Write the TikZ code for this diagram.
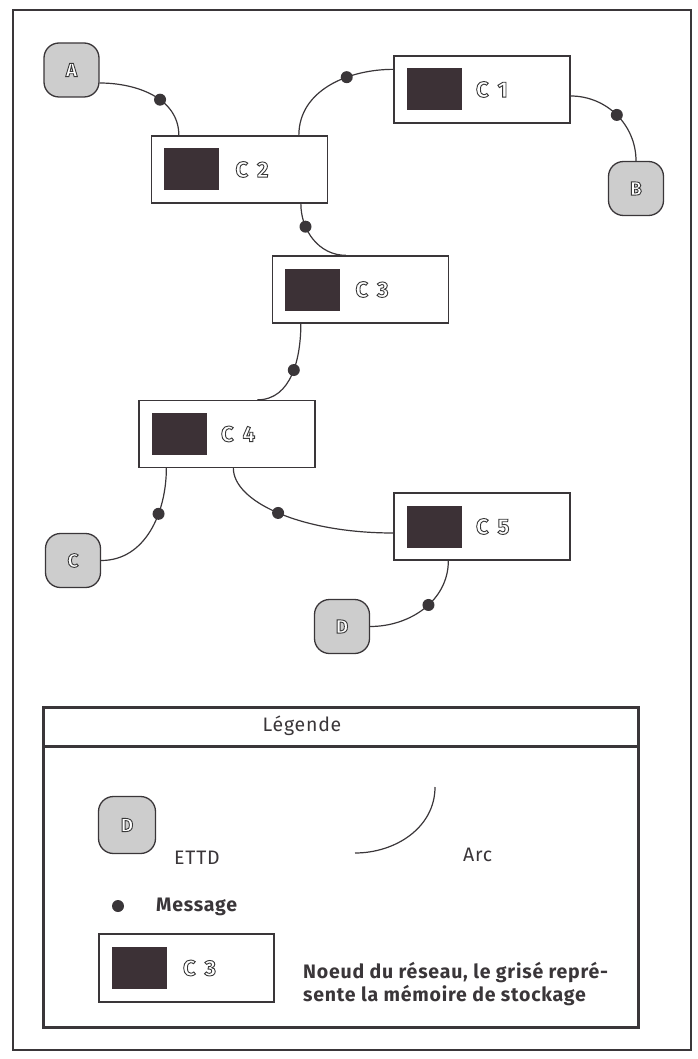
\documentclass[tikz,border=0pt]{standalone}
\usepackage{fontspec}
\setmainfont{Fira Sans}
\newfontfamily\legfont[LetterSpace=4]{Fira Sans}
\usetikzlibrary{positioning}
\definecolor{trait}{RGB}{58,54,57}
\definecolor{memoire}{RGB}{60,49,54}
\definecolor{ettdfond}{RGB}{205,205,205}
% lettres creuses (contour seul)
\newcommand{\creux}[1]{\special{pdf:literal direct 2 Tr 0.9 w 0.22 G}#1\special{pdf:literal direct 0 Tr}}

\begin{document}
\begin{tikzpicture}[x=1pt, y=1pt,
        centre/.style={rectangle, draw=trait, line width=1.3pt, fill=white, minimum width=176pt, minimum height=67pt, inner sep=0pt},
        stock/.style={rectangle, fill=memoire, minimum width=55pt, minimum height=42pt, inner sep=0pt},
        nom/.style={font=\fontsize{22}{22}\selectfont\bfseries, text=white, inner sep=0pt},
        ettd/.style={rectangle, rounded corners=15pt, draw=trait, line width=1.3pt, fill=ettdfond, minimum width=55pt, minimum height=54pt, font=\fontsize{19}{19}\selectfont\bfseries, text=white},
        lien/.style={draw=trait, line width=1.2pt},
        msg/.style={circle, fill=trait, minimum size=12pt, inner sep=0pt},
        leg/.style={font=\legfont\fontsize{19.5}{23}\selectfont, text=trait, inner sep=0pt, anchor=west}
        ]
        \useasboundingbox (0,0) rectangle (697,-1059);
        \draw[line width=1.6pt, draw=trait] (13,-10) rectangle (691,-1050);

        % ETTD
        \node[ettd] (A) at (71.5,-70) {\creux{A}};
        \node[ettd] (B) at (636,-188.5) {\creux{B}};
        \node[ettd] (C) at (73,-560.5) {\creux{C}};
        \node[ettd] (D) at (342,-626.5) {\creux{D}};

        % noeuds du reseau
        \node[centre] (c1) at (482,-89.5) {};
        \node[stock, right=13pt of c1.west] (m1) {};
        \node[nom, right=14pt of m1] (n1) {\creux{C\hspace{9pt}1}};

        \node[centre] (c2) at (239.5,-169.5) {};
        \node[stock, right=13pt of c2.west] (m2) {};
        \node[nom, right=16pt of m2] (n2) {\creux{C\hspace{9pt}2}};

        \node[centre] (c3) at (360.5,-289.5) {};
        \node[stock, right=13pt of c3.west] (m3) {};
        \node[nom, right=15pt of m3] (n3) {\creux{C\hspace{9pt}3}};

        \node[centre] (c4) at (227,-434) {};
        \node[stock, right=13pt of c4.west] (m4) {};
        \node[nom, right=14pt of m4] (n4) {\creux{C\hspace{9pt}4}};

        \node[centre] (c5) at (482,-526.5) {};
        \node[stock, right=13pt of c5.west] (m5) {};
        \node[nom, right=14pt of m5] (n5) {\creux{C\hspace{9pt}5}};

        % arcs et messages
        \draw[lien] ([yshift=-13pt]A.east) to[out=0, in=90] node[msg, pos=0.58] (msgA2) {} ([xshift=28pt]c2.north west);
        \draw[lien] ([xshift=148pt]c2.north west) to[out=90, in=180] node[msg, pos=0.65] (msg21) {} ([yshift=-14pt]c1.north west);
        \draw[lien] ([yshift=-6.5pt]c1.east) to[out=0, in=90] node[msg, pos=0.5] (msg1B) {} (B.north);
        \draw[lien] ([xshift=150pt]c2.south west) to[out=-90, in=180] node[msg, pos=0.3] (msg23) {} ([xshift=74pt]c3.north west);
        \draw[lien] ([xshift=29pt]c3.south west) to[out=-90, in=0] node[msg, pos=0.45] (msg34) {} ([xshift=119pt]c4.north west);
        \draw[lien] ([xshift=28pt]c4.south west) to[out=-90, in=0] node[msg, pos=0.35] (msg4C) {} (C.east);
        \draw[lien] ([xshift=95pt]c4.south west) to[out=-90, in=180, out distance=33pt, in distance=94pt] node[msg, pos=0.5] (msg45) {} ([yshift=-6.5pt]c5.west);
        \draw[lien] ([xshift=55pt]c5.south west) to[out=-90, in=0] node[msg, pos=0.45] (msg5D) {} (D.east);

        % legende
        \draw[line width=3pt, draw=trait] (43,-707) rectangle (638,-1027);
        \draw[line width=3pt, draw=trait] (43,-746) -- (638,-746);
        \node[leg, anchor=center] (titre) at (302,-726) {Légende};

        \node[ettd, minimum width=57pt, minimum height=57pt] (Dleg) at (127,-825) {\creux{D}};
        \node[leg] (tettd) at (174,-858) {ETTD};

        \coordinate (arcdeb) at (355,-853);
        \coordinate (arcfin) at (435,-787);
        \draw[lien] (arcdeb) to[out=0, in=-90] (arcfin);
        \node[leg] (tarc) at (463,-855) {Arc};

        \node[msg] (msgleg) at (118,-906) {};
        \node[leg, font=\legfont\fontsize{19.5}{23}\selectfont\bfseries] (tmsg) at (156,-907) {Message};

        \node[centre, minimum width=175pt, minimum height=68pt] (cl) at (186.5,-968) {};
        \node[stock, right=13pt of cl.west] (ml) {};
        \node[nom, right=16pt of ml] (nl) {\creux{C\hspace{9pt}3}};
        \node[leg, font=\legfont\fontsize{19.5}{23}\selectfont\bfseries, align=left] (tnoeud) at (303,-984) {Noeud du réseau, le grisé repré-\\sente la mémoire de stockage};

    \end{tikzpicture}
\end{document}
